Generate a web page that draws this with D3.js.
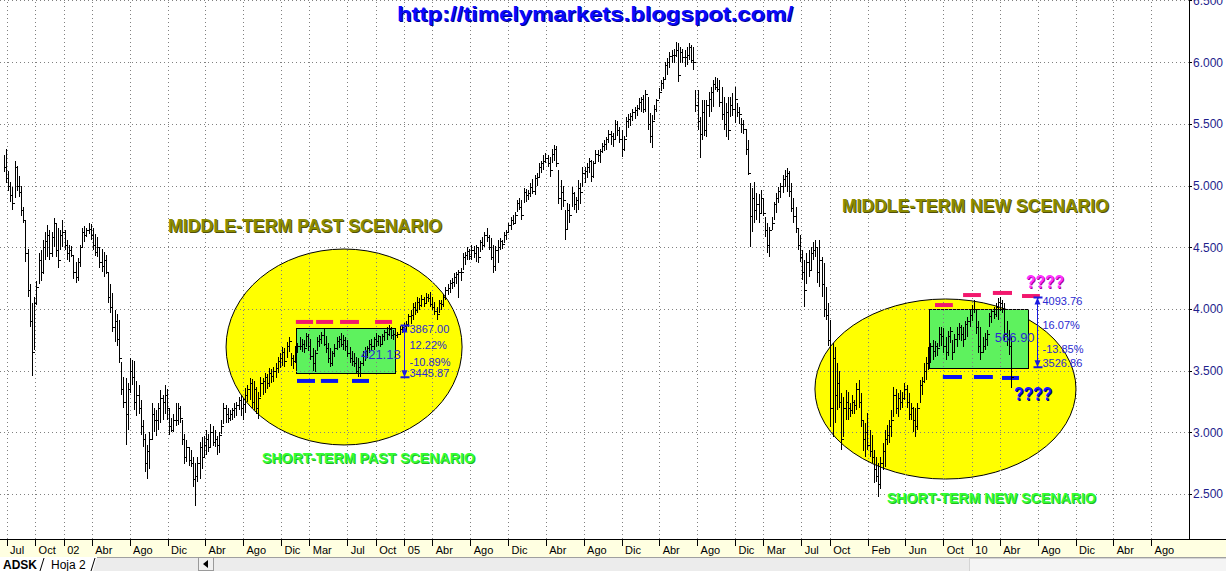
<!DOCTYPE html>
<html lang="es">
<head>
<meta charset="UTF-8">
<title>timelymarkets - ADSK semanal</title>
<script src="https://d3js.org/d3.v7.min.js"></script>
<style>
  body { margin: 0; background: #fff; overflow: hidden; }
  svg { display: block; font-family: "Liberation Sans", Arial, sans-serif; }
  .grid line { stroke: #808080; stroke-dasharray: 1,3; shape-rendering: crispEdges; }
  .grid path { display: none; }
  .axis path, .axis line { stroke: #000; shape-rendering: crispEdges; }
  .yaxis text { fill: #1e1e8c; font-size: 12px; }
  .xaxis text { fill: #000; font-size: 11px; }
  .bar { stroke: #000; fill: none; shape-rendering: crispEdges; }
</style>
</head>
<body>
<svg id="chart" width="1226" height="571"></svg>
<script>
// weekly bars [high, low, close], first bar on this friday
const firstWeek = "2001-06-22";
const y2001 = [[5250,5110,5150],[5300,5020,5060],[5120,4960,5000],[5030,4870,4920],[4990,4800,4860],[5200,4900,5150],[5160,4960,5000],[5080,4910,4950],[5000,4750,4800],[4830,4700,4720],
  [4720,4380,4450],[4490,4100,4150],[4200,3850,3900],[4050,3460,3650],[4100,3670,4050],[4230,4030,4180],[4450,4200,4400],[4480,4230,4300],[4560,4280,4500],[4620,4400,4550],
  [4680,4420,4600],[4640,4400,4450],[4620,4420,4580],[4740,4500,4700],[4700,4420,4480],[4660,4330,4400],[4640,4480,4600],[4720,4500,4620]];
const y2002 = [[4640,4480,4520],[4560,4400,4450],[4520,4380,4480],[4510,4420,4440],[4440,4240,4300],[4380,4210,4260],[4410,4230,4380],[4520,4340,4500],[4660,4500,4620],[4670,4540,4600],
  [4660,4580,4640],[4700,4610,4650],[4690,4560,4600],[4660,4480,4520],[4610,4430,4460],[4580,4420,4500],[4500,4330,4380],[4490,4300,4350],[4460,4260,4400],[4440,4280,4300],
  [4290,4050,4100],[4200,3970,4020],[4130,3810,3850],[3990,3730,3900],[3960,3700,3760],[3910,3560,3600],[3570,3300,3350],[3450,3200,3250],[3440,2900,3150],[3400,3020,3350],
  [3600,3320,3500],[3590,3380,3450],[3580,3180,3250],[3420,3130,3300],[3380,3150,3200],[3260,2980,3050],[3100,2880,2950],[2990,2680,2750],[2900,2620,2850],[3000,2700,2950],
  [3240,2940,3150],[3200,3000,3100],[3180,2970,3100],[3240,3020,3200],[3340,3080,3280],[3300,3100,3250],[3380,3150,3300],[3350,3100,3200],[3200,2980,3050],[3120,3000,3020],
  [3150,3000,3100],[3240,3050,3100]];
const y2003 = [[3240,3060,3200],[3210,3080,3120],[3100,2900,2950],[2990,2740,2800],[2940,2760,2880],[2880,2730,2780],[2860,2720,2750],[2800,2560,2620],[2750,2400,2650],[2800,2600,2750],
  [2920,2620,2880],[2960,2700,2800],[2970,2800,2900],[3020,2820,2950],[2990,2840,2880],[3070,2880,3000],[3050,2890,2920],[3020,2880,2950],[2970,2820,2900],[3000,2830,2980],
  [3100,2990,3050],[3240,3070,3200],[3220,3080,3150],[3200,3080,3120],[3180,3090,3150],[3200,3100,3180],[3240,3120,3200],[3250,3130,3220],[3290,3180,3260],[3300,3130,3200],
  [3280,3100,3230],[3360,3160,3300],[3380,3250,3350],[3440,3260,3400],[3430,3200,3250],[3420,3180,3350],[3370,3150,3200],[3330,3110,3280],[3450,3290,3400],[3440,3300,3420],
  [3480,3320,3450],[3470,3350,3400],[3520,3370,3480],[3510,3400,3460],[3530,3410,3500],[3560,3440,3520],[3610,3480,3580],[3640,3520,3600],[3690,3540,3650],[3680,3530,3580],
  [3730,3600,3700],[3775,3650,3740]];
const y2004 = [[3640,3540,3600],[3630,3510,3580],[3700,3560,3680],[3725,3640,3700],[3775,3670,3700],[3760,3650,3720],[3750,3645,3680],[3805,3690,3780],[3800,3660,3700],[3760,3590,3620],
  [3680,3500,3560],[3670,3490,3640],[3775,3660,3740],[3790,3690,3760],[3815,3720,3790],[3840,3700,3720],[3780,3640,3680],[3725,3560,3600],[3680,3530,3560],[3660,3540,3640],
  [3720,3610,3680],[3775,3670,3740],[3780,3680,3760],[3805,3690,3720],[3790,3670,3750],[3775,3660,3700],[3750,3610,3640],[3690,3560,3600],[3660,3540,3580],[3640,3530,3560],
  [3610,3470,3500],[3600,3450,3530],[3580,3445,3560],[3660,3540,3620],[3690,3580,3660],[3700,3600,3680],[3750,3640,3720],[3760,3660,3700],[3775,3670,3760],[3805,3690,3740],
  [3790,3700,3780],[3780,3690,3720],[3800,3710,3780],[3830,3740,3810],[3855,3750,3800],[3870,3780,3840],[3850,3760,3790],[3830,3750,3800],[3820,3760,3790],[3815,3765,3800],
  [3860,3790,3840],[3870,3805,3850]];
const y2005 = [[3885,3805,3860],[3900,3820,3880],[3960,3855,3940],[3990,3880,3950],[4050,3910,4020],[4060,3950,3990],[4095,3965,4060],[4090,3990,4030],[4110,4015,4080],[4100,4020,4050],
  [4130,4050,4100],[4120,4060,4090],[4140,4015,4040],[4100,3990,4020],[4060,3950,3980],[4015,3910,3960],[4075,3965,4050],[4070,3990,4040],[4120,4020,4100],[4180,4075,4150],
  [4200,4110,4170],[4235,4130,4210],[4250,4160,4220],[4290,4180,4260],[4300,4200,4280],[4315,4090,4300],[4330,4230,4300],[4450,4315,4420],[4460,4360,4440],[4500,4400,4470],
  [4490,4400,4430],[4520,4400,4480],[4510,4410,4450],[4520,4380,4500],[4500,4375,4420],[4560,4460,4540],[4580,4480,4520],[4620,4500,4600],[4655,4540,4580],[4600,4480,4500],
  [4575,4400,4420],[4520,4290,4350],[4510,4310,4480],[4560,4375,4500],[4575,4480,4550],[4560,4490,4530],[4625,4535,4600],[4640,4560,4620],[4700,4615,4680],[4745,4640,4720],
  [4760,4680,4700],[4785,4700,4760]];
const y2006 = [[4880,4790,4860],[4900,4800,4830],[4880,4720,4760],[4980,4860,4950],[4970,4870,4920],[4965,4880,4940],[5020,4910,4990],[5050,4930,4960],[5085,4925,5060],[5100,5000,5070],
  [5180,5070,5150],[5200,5100,5180],[5250,5125,5200],[5265,5180,5220],[5250,5150,5180],[5230,5070,5130],[5300,5180,5260],[5330,5200,5300],[5320,5150,5180],[5125,4850,4900],
  [5045,4800,4950],[5000,4825,4880],[4800,4560,4650],[4860,4640,4800],[4850,4700,4760],[4990,4825,4940],[4950,4800,4850],[4905,4780,4880],[5045,4800,4980],[5020,4850,4950],
  [5150,4990,5100],[5150,5020,5120],[5180,5060,5150],[5225,5100,5200],[5205,5030,5080],[5200,5060,5180],[5290,5180,5260],[5290,5190,5250],[5300,5180,5280],[5345,5265,5320],
  [5370,5280,5340],[5395,5290,5380],[5450,5345,5420],[5440,5330,5400],[5425,5310,5380],[5530,5370,5500],[5520,5400,5450],[5475,5345,5380],[5450,5230,5300],[5400,5280,5380],
  [5555,5395,5520],[5580,5470,5540]];
const y2007 = [[5590,5480,5560],[5620,5520,5600],[5635,5540,5610],[5650,5560,5630],[5710,5610,5680],[5720,5600,5700],[5735,5590,5620],[5775,5600,5740],[5720,5450,5500],[5590,5345,5400],
  [5570,5305,5520],[5650,5530,5620],[5700,5600,5690],[5790,5700,5760],[5855,5770,5830],[5880,5780,5860],[6000,5855,5980],[6030,5900,6000],[6085,5955,6050],[6100,5995,6060],
  [6110,5995,6060],[6165,6045,6100],[6155,5840,5900],[6125,5995,6080],[6110,5990,6040],[6100,5960,6040],[6120,5980,6060],[6155,6015,6120],[6140,5990,6020],[6125,5940,6000],
  [5775,5595,5650],[5775,5450,5520],[5555,5225,5420],[5690,5370,5600],[5690,5400,5450],[5690,5395,5650],[5760,5555,5700],[5800,5600,5760],[5855,5635,5820],[5880,5775,5800],
  [5870,5760,5780],[5855,5635,5680],[5800,5530,5580],[5720,5450,5500],[5670,5395,5600],[5720,5370,5450],[5720,5555,5650],[5750,5560,5620],[5800,5505,5700],[5670,5555,5600],
  [5640,5500,5580],[5550,5425,5500]];
const y2008 = [[5530,5420,5460],[5460,5250,5300],[5370,5085,5100],[5020,4500,4750],[4980,4620,4900],[5030,4700,4800],[4940,4720,4850],[4930,4700,4780],[4965,4780,4900],[4900,4750,4780],
  [4745,4585,4640],[4700,4450,4520],[4665,4420,4640],[4745,4640,4700],[4870,4720,4850],[4940,4780,4900],[4990,4860,4960],[5020,4900,5000],[5085,4940,5050],[5125,4990,5080],
  [5140,4950,5100],[5120,4910,4960],[5020,4785,4820],[4900,4700,4750],[4825,4615,4660],[4660,4480,4520],[4600,4380,4420],[4480,4235,4300],[4400,4015,4150],[4455,4200,4380],
  [4480,4260,4320],[4500,4315,4450],[4540,4400,4480],[4560,4420,4500],[4500,4210,4300],[4560,4180,4400],[4420,4100,4200],[4375,3935,4000],[4180,3910,3950],[4050,3700,3750],
  [3910,3045,3200],[3725,2965,3600],[3690,3075,3300],[3560,3180,3400],[3500,3200,3250],[3320,2860,2950],[3290,2965,3200],[3345,3100,3250],[3330,3100,3200],[3240,3125,3180],
  [3300,3150,3250],[3260,3150,3220]];
const y2009 = [[3400,3180,3350],[3425,3200,3250],[3320,3045,3100],[3100,2850,2950],[3080,2800,3000],[3155,2860,2900],[3020,2800,2850],[2980,2750,2800],[2860,2590,2700],[2800,2600,2650],
  [2750,2480,2580],[2800,2540,2750],[2915,2695,2850],[3020,2720,2950],[3060,2900,2980],[3100,2915,3050],[3180,2965,3100],[3370,3125,3300],[3350,3150,3200],[3320,3125,3280],
  [3345,3180,3250],[3330,3200,3280],[3400,3260,3350],[3380,3200,3250],[3320,3100,3150],[3240,3100,3200],[3205,3000,3100],[3200,2965,3050],[3240,3020,3200],[3425,3240,3380],
  [3450,3300,3420],[3560,3400,3500],[3610,3425,3560],[3690,3505,3640],[3725,3560,3700],[3750,3590,3660],[3740,3610,3700],[3725,3620,3680],[3855,3690,3800],[3850,3700,3780],
  [3845,3645,3700],[3775,3590,3650],[3820,3620,3780],[3855,3725,3820],[3750,3590,3650],[3800,3640,3760],[3855,3690,3800],[3885,3750,3850],[3870,3740,3800],[3855,3690,3760],
  [3900,3760,3880],[3935,3775,3900]];
const y2010 = [[3990,3855,3950],[4030,3900,4000],[4075,3965,4000],[3990,3800,3850],[3900,3640,3700],[3855,3590,3650],[3775,3645,3700],[3805,3670,3760],[3830,3700,3800],[3965,3855,3940],
  [4000,3885,3980],[4015,3920,3960],[4050,3935,4020],[4090,3910,4060],[4094,3980,4050],[4075,3965,4000],[4050,3750,3800],[3900,3700,3760],[3830,3625,3700],[3775,3360,3450]];

const priceTicks = [2500, 3000, 3500, 4000, 4500, 5000, 5500, 6000, 6500];
const monthTicks = ["2001-07-01","2001-10-01","2002-01-01","2002-04-01","2002-08-01","2002-12-01","2003-04-01","2003-08-01","2003-12-01",
  "2004-03-01","2004-07-01","2004-10-01","2005-01-01","2005-04-01","2005-08-01","2005-12-01","2006-04-01","2006-08-01","2006-12-01",
  "2007-04-01","2007-08-01","2007-12-01","2008-03-01","2008-07-01","2008-10-01","2009-02-01","2009-06-01","2009-10-01","2010-01-01",
  "2010-04-01","2010-08-01","2010-12-01","2011-04-01","2011-08-01"];
const monthNames = ["Ene","Feb","Mar","Abr","May","Jun","Jul","Ago","Sep","Oct","Nov","Dic"];

// hand-drawn notes, anchored on bar number (w) and price (p)
const ellipses = [{ w: [102.2, 210.7], p: [4486, 2898] }, { w: [372.9, 492.9], p: [4081, 2622] }];
const boxes = [{ w: [134.3, 179.9], p: [3846, 3481] }, { w: [425.3, 470.8], p: [4000, 3522] }];
const highMarks = [
  { w: [134.3, 142.2], p: 3895 }, { w: [143.6, 151.4], p: 3895 }, { w: [154.6, 163.3], p: 3895 }, { w: [170.7, 178.5], p: 3895 },
  { w: [428.1, 436.3], p: 4032 }, { w: [441, 449.2], p: 4113 }, { w: [454.7, 463.5], p: 4130 }, { w: [468.1, 476.3], p: 4105 }];
const lowMarks = [
  { w: [134.8, 143.1], p: 3417 }, { w: [145.8, 153.7], p: 3417 }, { w: [160.1, 167.9], p: 3417 },
  { w: [431.7, 440.5], p: 3449 }, { w: [446, 454.7], p: 3449 }, { w: [458.9, 466.7], p: 3441 }];
const ranges = [
  { w: 184, top: 3867.00, bottom: 3445.87, dw: 164.2, dp: 3595 },
  { w: 475, top: 4093.76, bottom: 3526.86, dw: 455.6, dp: 3733 }];
const notes = [
  { text: "MIDDLE-TERM PAST SCENARIO", w: 75.5, p: 4624, size: 17.5, len: 274, fill: "#8c8c00", shade: "#50500a" },
  { text: "MIDDLE-TERM NEW SCENARIO", w: 385.3, p: 4786, size: 17.5, len: 267, fill: "#8c8c00", shade: "#50500a" },
  { text: "SHORT-TERM PAST SCENARIO", w: 118.7, p: 2752, size: 14, len: 213, fill: "#33ff33", shade: "#22b822" },
  { text: "SHORT-TERM NEW SCENARIO", w: 406, p: 2428, size: 14, len: 209, fill: "#33ff33", shade: "#22b822" },
  { text: "????", w: 469.9, p: 4172, size: 18, len: 38, fill: "#ff33ff", shade: "#a000a0" },
  { text: "????", w: 464.4, p: 3263, size: 18, len: 38, fill: "#1a1aff", shade: "#00007a" }];

const W = 1226, plotRight = 1189, axisY = 539, bandBottom = 557;
const svg = d3.select("#chart");
const parse = d3.timeParse("%Y-%m-%d");
const start = parse(firstWeek);
const wk = n => new Date(+start + n * 7 * 864e5);

const bars = [].concat(y2001, y2002, y2003, y2004, y2005, y2006, y2007, y2008, y2009, y2010)
  .map((b, i) => ({ date: d3.timeDay.offset(start, 7 * i), high: b[0], low: b[1], close: b[2] }));

const x = d3.scaleTime().domain([parse("2001-06-10"), parse("2011-12-01")]).range([0, plotRight]);
const y = d3.scaleLinear().domain([2136, 6504]).range([axisY, 0]);
const xw = n => x(wk(n));

svg.append("rect").attr("width", W).attr("height", 571).attr("fill", "#fff");

// yellow ellipses and green boxes go under the grid
svg.append("g").selectAll("ellipse").data(ellipses).join("ellipse")
  .attr("cx", d => (xw(d.w[0]) + xw(d.w[1])) / 2).attr("cy", d => (y(d.p[0]) + y(d.p[1])) / 2)
  .attr("rx", d => (xw(d.w[1]) - xw(d.w[0])) / 2).attr("ry", d => (y(d.p[1]) - y(d.p[0])) / 2)
  .attr("fill", "#ffff00").attr("stroke", "#000").attr("stroke-width", 1);
svg.append("g").selectAll("rect").data(boxes).join("rect")
  .attr("x", d => Math.round(xw(d.w[0])) + 0.5).attr("y", d => Math.round(y(d.p[0])) + 0.5)
  .attr("width", d => Math.round(xw(d.w[1]) - xw(d.w[0]))).attr("height", d => Math.round(y(d.p[1]) - y(d.p[0])))
  .attr("fill", "#5ef25e").attr("stroke", "#000").attr("shape-rendering", "crispEdges");

// dotted grid
svg.append("g").attr("class", "grid").attr("transform", `translate(0,${axisY})`)
  .call(d3.axisBottom(x).tickValues(monthTicks.map(parse)).tickSize(-axisY).tickFormat(""));
svg.append("g").attr("class", "grid")
  .call(d3.axisLeft(y).tickValues(priceTicks).tickSize(-plotRight).tickFormat(""));

// resistance / support marks
const marks = svg.append("g").attr("stroke-width", 4);
marks.selectAll(".hi").data(highMarks).join("line").attr("class", "hi")
  .attr("x1", d => xw(d.w[0])).attr("x2", d => xw(d.w[1])).attr("y1", d => y(d.p)).attr("y2", d => y(d.p))
  .attr("stroke", "#f2186e");
marks.selectAll(".lo").data(lowMarks).join("line").attr("class", "lo")
  .attr("x1", d => xw(d.w[0])).attr("x2", d => xw(d.w[1])).attr("y1", d => y(d.p)).attr("y2", d => y(d.p))
  .attr("stroke", "#0a14f0");

// price bars
svg.append("g").selectAll("path").data(bars).join("path").attr("class", "bar")
  .attr("d", d => {
    const px = Math.round(x(d.date)) + 0.5;
    const pc = Math.round(y(d.close)) + 0.5;
    return `M${px},${y(d.high)}V${y(d.low)}M${px},${pc}h2`;
  });

// measured ranges
const blue = "#2a2ad0";
const f2 = d3.format(".2f");
const rg = svg.append("g").selectAll("g").data(ranges).join("g");
rg.each(function (d) {
  const g = d3.select(this);
  const ax = Math.round(xw(d.w)) + 0.5, yt = y(d.top), yb = y(d.bottom), span = yb - yt;
  const diff = d.top - d.bottom;
  g.append("line").attr("x1", ax).attr("x2", ax).attr("y1", yt).attr("y2", yb).attr("stroke", "#1a1ae0");
  g.append("path").attr("d", `M${ax},${yt}l-3,7h6z M${ax},${yb}l-3,-7h6z`).attr("fill", "#1a1ae0");
  g.append("path").attr("d", `M${ax - 4},${yt}h9 M${ax - 4},${yb}h9`).attr("stroke", "#1a1ae0").attr("stroke-width", 2);
  const lab = (txt, ty) => g.append("text").attr("x", ax + 5).attr("y", ty).attr("font-size", 11).attr("fill", blue).text(txt);
  lab(f2(d.top), yt + 8);
  lab(f2(diff / d.bottom * 100) + "%", yt + 0.42 * span + 2);
  lab("-" + f2(diff / d.top * 100) + "%", yb - 0.21 * span);
  lab(f2(d.bottom), yb);
  g.append("text").attr("x", xw(d.dw)).attr("y", y(d.dp)).attr("font-size", 13).attr("fill", blue).text(f2(diff));
});

// scenario captions
const nt = svg.append("g").attr("font-weight", "bold");
notes.forEach(d => {
  [[1, d.shade], [0, d.fill]].forEach(([o, c]) => {
    nt.append("text").attr("x", xw(d.w) + o).attr("y", y(d.p) + o).attr("font-size", d.size)
      .attr("textLength", d.len).attr("lengthAdjust", "spacingAndGlyphs").attr("fill", c).text(d.text);
  });
});

// blog address
[[1, "#00008b"], [0, "#0a0aff"]].forEach(([o, c]) => {
  svg.append("text").attr("x", 397 + o).attr("y", 21 + o).attr("font-size", 20).attr("font-weight", "bold")
    .attr("textLength", 396).attr("lengthAdjust", "spacingAndGlyphs").attr("fill", c)
    .text("http://timelymarkets.blogspot.com/");
});

// date band and axes
svg.append("rect").attr("x", 0).attr("y", axisY).attr("width", W).attr("height", bandBottom - axisY).attr("fill", "#ffffe1");
svg.append("line").attr("x1", 0).attr("x2", W).attr("y1", axisY + 0.5).attr("y2", axisY + 0.5)
  .attr("stroke", "#000").attr("shape-rendering", "crispEdges");

const monthLabel = d => d.getMonth() === 0 ? d3.timeFormat("%y")(d) : monthNames[d.getMonth()];
svg.append("g").attr("class", "axis xaxis").attr("transform", `translate(0,${axisY})`)
  .call(d3.axisBottom(x).tickValues(monthTicks.map(parse)).tickSize(7).tickSizeOuter(0).tickFormat(monthLabel))
  .call(g => g.select(".domain").remove())
  .call(g => g.selectAll("text").attr("text-anchor", "start").attr("x", 3).attr("y", 7).attr("dy", "0.71em"));

const fmt = d3.formatLocale({ decimal: ",", thousands: ".", grouping: [3], currency: ["", ""] }).format(",");
svg.append("g").attr("class", "axis yaxis").attr("transform", `translate(${plotRight},0)`)
  .call(d3.axisRight(y).tickValues(priceTicks).tickSize(3).tickPadding(1).tickSizeOuter(0).tickFormat(fmt));

// sheet tabs strip
const tabs = svg.append("g").attr("font-size", 12);
tabs.append("rect").attr("x", 0).attr("y", bandBottom).attr("width", W).attr("height", 571 - bandBottom).attr("fill", "#ececec");
tabs.append("path").attr("d", `M0,${bandBottom}H97L93,571H0Z`).attr("fill", "#fff");
tabs.append("path").attr("d", `M97,${bandBottom + 0.5}H${W}`).attr("stroke", "#a0a0a0");
tabs.append("path").attr("d", "M40,571L44,558 M91,571L95,558").attr("stroke", "#000").attr("fill", "none");
tabs.append("text").attr("x", 3).attr("y", 569).attr("font-weight", "bold").text("ADSK");
tabs.append("text").attr("x", 51).attr("y", 569).text("Hoja 2");
tabs.append("rect").attr("x", 198.5).attr("y", 557.5).attr("width", 15).attr("height", 13)
  .attr("fill", "#f0f0f0").attr("stroke", "#9a9a9a");
tabs.append("path").attr("d", "M203,564L208,560V568Z").attr("fill", "#000");
tabs.append("rect").attr("x", 969.5).attr("y", 558.5).attr("width", 257).attr("height", 13)
  .attr("fill", "#f4f4f4").attr("stroke", "#d4d4d4");
</script>
</body>
</html>
